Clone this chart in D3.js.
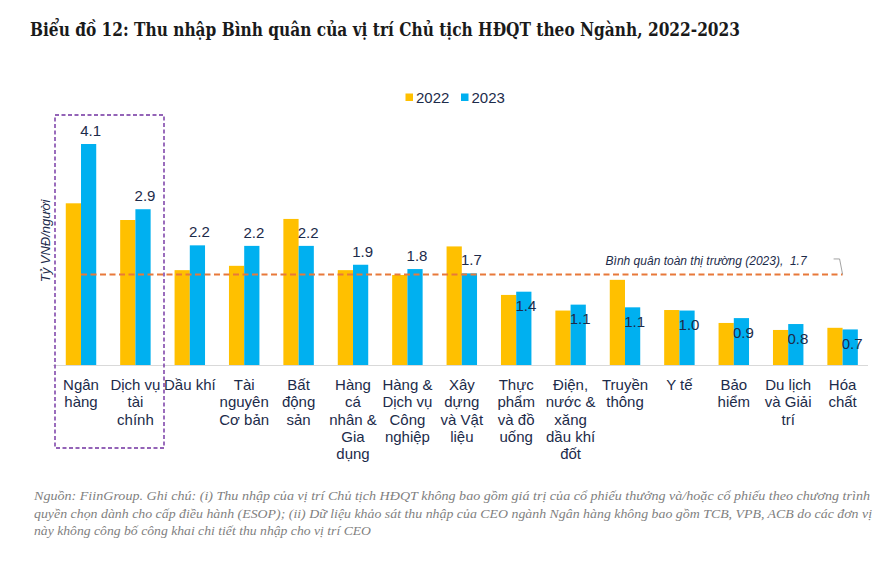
<!DOCTYPE html>
<html><head><meta charset="utf-8">
<script src="https://cdn.jsdelivr.net/npm/d3@7"></script>
<style>
html,body{margin:0;padding:0;background:#fff;}
svg{display:block;}
</style></head>
<body>
<svg id="chart" width="885" height="564"></svg>
<script>
const categories = [
  ["Ngân","hàng"],
  ["Dịch vụ","tài","chính"],
  ["Dầu khí"],
  ["Tài","nguyên","Cơ bản"],
  ["Bất","động","sản"],
  ["Hàng","cá","nhân &","Gia","dụng"],
  ["Hàng &","Dịch vụ","Công","nghiệp"],
  ["Xây","dựng","và Vật","liệu"],
  ["Thực","phẩm","và đồ","uống"],
  ["Điện,","nước &","xăng","dầu khí","đốt"],
  ["Truyền","thông"],
  ["Y tế"],
  ["Bảo","hiểm"],
  ["Du lịch","và Giải","trí"],
  ["Hóa","chất"]
];
const years = ["2022","2023"];
const values2022 = [3.0, 2.69, 1.76, 1.84, 2.71, 1.76, 1.67, 2.20, 1.30, 1.01, 1.58, 1.02, 0.78, 0.65, 0.69];
const values2023 = [4.1, 2.89, 2.22, 2.21, 2.21, 1.86, 1.78, 1.70, 1.36, 1.12, 1.07, 1.01, 0.87, 0.76, 0.66];
const marketAverage2023 = 1.68;
const avgLabel = "Bình quân toàn thị trường (2023),  ";
const yAxisTitle = "Tỷ VNĐ/người";
const title = "Biểu đồ 12: Thu nhập Bình quân của vị trí Chủ tịch HĐQT theo Ngành, 2022-2023";
const footnote = [
  "Nguồn: FiinGroup. Ghi chú: (i) Thu nhập của vị trí Chủ tịch HĐQT không bao gồm giá trị của cổ phiếu thưởng và/hoặc cổ phiếu theo chương trình",
  "quyền chọn dành cho cấp điều hành (ESOP); (ii) Dữ liệu khảo sát thu nhập của CEO ngành Ngân hàng không bao gồm TCB, VPB, ACB do các đơn vị",
  "này không công bố công khai chi tiết thu nhập cho vị trí CEO"
];

const colors = {"2022": "#FFC000", "2023": "#00B0F0"};
const textColor = "#1C2B4A";
const svg = d3.select("#chart");
const fmt = d3.format(".1f");

const baseY = 365, unit = 53.9;
const y = d3.scaleLinear().domain([0, 5]).range([baseY, baseY - 5 * unit]);
const idx = d3.range(categories.length);
const x0 = d3.scaleBand().domain(idx).range([53.8, 869.8]).paddingInner(0.44).paddingOuter(0.22);
const x1 = d3.scaleBand().domain(years).range([0, x0.bandwidth()]);
const data = idx.map(i => ({i, vals: [{year: "2022", v: values2022[i]}, {year: "2023", v: values2023[i]}]}));

// Title
const t = svg.append("text").attr("x", 30).attr("y", 36)
  .attr("font-family", "'DejaVu Serif', 'Liberation Serif', serif").attr("font-weight", "bold")
  .attr("font-stretch", "condensed")
  .attr("font-size", 18).attr("fill", "#1a1a1a").text(title);
const tl = t.node().getComputedTextLength();
if (Math.abs(tl - 710) > 4) t.attr("textLength", 710).attr("lengthAdjust", "spacingAndGlyphs");

// Legend
const lg = svg.append("g");
const legX = [405.5, 461];
years.forEach((yr, k) => {
  lg.append("rect").attr("x", legX[k]).attr("y", 93.5).attr("width", 7.5).attr("height", 7.5).attr("fill", colors[yr]);
  lg.append("text").attr("x", legX[k] + 10.5).attr("y", 102.5)
    .attr("font-family", "'Liberation Sans', Arial, sans-serif").attr("font-size", 15)
    .attr("fill", textColor).text(yr);
});

// Axis baseline
svg.append("line").attr("x1", 53).attr("x2", 868).attr("y1", baseY + 0.5).attr("y2", baseY + 0.5)
  .attr("stroke", "#D9D9D9").attr("stroke-width", 1);

// Bars
const groups = svg.append("g").selectAll("g").data(data).join("g")
  .attr("transform", d => `translate(${x0(d.i)},0)`);
groups.selectAll("rect").data(d => d.vals).join("rect")
  .attr("x", d => x1(d.year)).attr("width", x1.bandwidth())
  .attr("y", d => y(d.v)).attr("height", d => y(0) - y(d.v))
  .attr("fill", d => colors[d.year]);

// Average line
const avgY = y(marketAverage2023);
const ax1 = x0(0) + x0.bandwidth() / 2, ax2 = x0(categories.length - 1) + x0.bandwidth() / 2;
svg.append("line").attr("x1", ax1).attr("x2", ax2).attr("y1", avgY).attr("y2", avgY)
  .attr("stroke", "#E8793A").attr("stroke-width", 2).attr("stroke-dasharray", "6,3.5");
svg.append("path").attr("d", `M${ax2 - 9},${avgY - 15.5} L${ax2 - 3},${avgY - 15.5} L${ax2},${avgY}`)
  .attr("fill", "none").attr("stroke", "#8c8c8c").attr("stroke-width", 0.8);
svg.append("text").attr("x", ax2 - 36).attr("y", avgY - 9).attr("text-anchor", "end")
  .attr("font-family", "'Liberation Sans', Arial, sans-serif").attr("font-style", "italic")
  .attr("font-size", 12).attr("fill", textColor).attr("xml:space", "preserve")
  .text(avgLabel + fmt(marketAverage2023));

// Value labels (2023)
svg.append("g").selectAll("text").data(idx).join("text")
  .attr("x", i => x0(i) + x1("2023") + x1.bandwidth() / 2 + 2)
  .attr("y", i => values2023[i] >= marketAverage2023 ? y(values2023[i]) - 8 : y(values2023[i]) + 19.5)
  .attr("text-anchor", "middle")
  .attr("font-family", "'Liberation Sans', Arial, sans-serif").attr("font-size", 15)
  .attr("fill", textColor).text(i => fmt(values2023[i]));

// Category labels
const cl = svg.append("g").selectAll("text").data(idx).join("text")
  .attr("text-anchor", "middle")
  .attr("font-family", "'Liberation Sans', Arial, sans-serif").attr("font-size", 15)
  .attr("fill", textColor)
  .attr("transform", i => `translate(${x0(i) + x0.bandwidth() / 2},390)`);
cl.selectAll("tspan").data(i => categories[i]).join("tspan")
  .attr("x", 0).attr("y", (d, k) => k * 17.3).text(d => d);

// Y axis title
svg.append("text").attr("transform", "translate(50,241) rotate(-90)")
  .attr("text-anchor", "middle")
  .attr("font-family", "'Liberation Sans', Arial, sans-serif").attr("font-style", "italic")
  .attr("font-size", 13).attr("fill", textColor).text(yAxisTitle);

// Highlight box
const bx1 = 55, bx2 = 164;
svg.append("rect").attr("x", bx1).attr("y", 115).attr("width", bx2 - bx1).attr("height", 333)
  .attr("fill", "none").attr("stroke", "#7030A0").attr("stroke-width", 1.4)
  .attr("stroke-dasharray", "4,2.5");

// Footnote
const fnWidths = [836, 838, 337];
footnote.forEach((line, k) => {
  const ft = svg.append("text").attr("x", 34).attr("y", 500 + k * 17.5)
    .attr("font-family", "'Liberation Serif', serif").attr("font-style", "italic")
    .attr("font-size", 13.5).attr("fill", "#7F7F7F").text(line);
  if (fnWidths[k]) ft.attr("textLength", fnWidths[k]).attr("lengthAdjust", "spacingAndGlyphs");
});
</script>
</body></html>
